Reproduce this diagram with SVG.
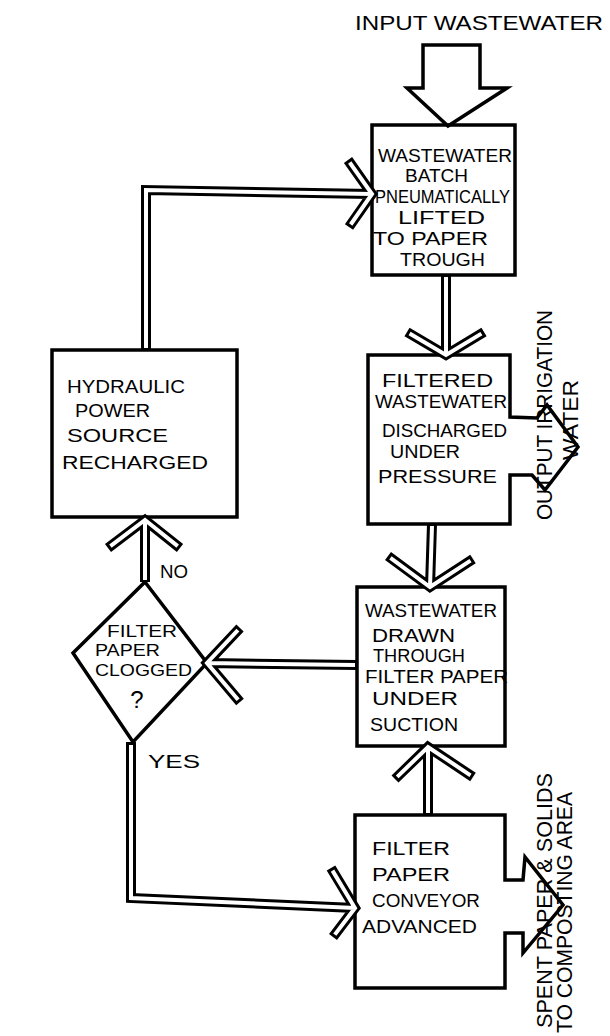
<svg xmlns="http://www.w3.org/2000/svg" width="610" height="1036" viewBox="0 0 610 1036">
<style>
.box{fill:none;stroke:#000;stroke-width:3.5;stroke-linejoin:miter}
.o{fill:none;stroke:#000;stroke-width:10;stroke-linejoin:miter;stroke-linecap:butt}
.i{fill:none;stroke:#fff;stroke-width:4;stroke-linejoin:miter;stroke-linecap:butt}
text{font-family:"Liberation Sans",Arial,sans-serif;fill:#000}
.t{font-size:18px}
.d{font-size:16px}
.r{font-size:22px}
.s{font-size:18px}
</style>
<rect width="610" height="1036" fill="#fff"/>
<g id="input">
<polygon class="box" fill="#fff" points="423,45 480,45 480,88 507,88 448,126 407,88 423,88"/>
<text x="355" y="30" font-size="21" textLength="248" lengthAdjust="spacingAndGlyphs">INPUT WASTEWATER</text>
</g>
<g id="box1">
<rect class="box" x="372" y="125" width="143" height="150"/>
<g class="t">
<text x="378" y="162" textLength="134" lengthAdjust="spacingAndGlyphs">WASTEWATER</text>
<text x="405" y="182" textLength="63" lengthAdjust="spacingAndGlyphs">BATCH</text>
<text x="375" y="203" textLength="135" lengthAdjust="spacingAndGlyphs">PNEUMATICALLY</text>
<text x="398" y="224" textLength="87" lengthAdjust="spacingAndGlyphs">LIFTED</text>
<text x="373" y="245" textLength="115" lengthAdjust="spacingAndGlyphs">TO PAPER</text>
<text x="400" y="266" textLength="85" lengthAdjust="spacingAndGlyphs">TROUGH</text>
</g>
</g>
<g id="box2">
<path class="box" d="M510,475 V524 H368 V355 H510 V417 L537,418 L547,405 L578,447 L545,490 L532,475 Z"/>
<g class="t">
<text x="382" y="387" textLength="111" lengthAdjust="spacingAndGlyphs">FILTERED</text>
<text x="375" y="408" textLength="132" lengthAdjust="spacingAndGlyphs">WASTEWATER</text>
<text x="382" y="437" textLength="125" lengthAdjust="spacingAndGlyphs">DISCHARGED</text>
<text x="390" y="458" textLength="70" lengthAdjust="spacingAndGlyphs">UNDER</text>
<text x="378" y="483" textLength="119" lengthAdjust="spacingAndGlyphs">PRESSURE</text>
</g>
<g class="r">
<text transform="translate(552,520) rotate(-90)" textLength="210" lengthAdjust="spacingAndGlyphs">OUTPUT IRRIGATION</text>
<text transform="translate(578,460) rotate(-90)" textLength="80" lengthAdjust="spacingAndGlyphs">WATER</text>
</g>
</g>
<g id="hydraulic">
<rect class="box" x="52" y="350" width="185" height="167"/>
<g class="t">
<text x="67" y="393" textLength="118" lengthAdjust="spacingAndGlyphs">HYDRAULIC</text>
<text x="75" y="417" textLength="75" lengthAdjust="spacingAndGlyphs">POWER</text>
<text x="67" y="442" textLength="101" lengthAdjust="spacingAndGlyphs">SOURCE</text>
<text x="62" y="469" textLength="146" lengthAdjust="spacingAndGlyphs">RECHARGED</text>
</g>
</g>
<g id="box3">
<rect class="box" x="357" y="587" width="148" height="159"/>
<g class="t">
<text x="365" y="617" textLength="132" lengthAdjust="spacingAndGlyphs">WASTEWATER</text>
<text x="372" y="642" textLength="83" lengthAdjust="spacingAndGlyphs">DRAWN</text>
<text x="373" y="662" textLength="92" lengthAdjust="spacingAndGlyphs">THROUGH</text>
<text x="365" y="683" textLength="143" lengthAdjust="spacingAndGlyphs">FILTER PAPER</text>
<text x="372" y="705" textLength="86" lengthAdjust="spacingAndGlyphs">UNDER</text>
<text x="370" y="731" textLength="88" lengthAdjust="spacingAndGlyphs">SUCTION</text>
</g>
</g>
<g id="decision">
<polygon class="box" points="145,582 207,663 133,742 73,653"/>
<g class="d">
<text x="107" y="637" textLength="70" lengthAdjust="spacingAndGlyphs">FILTER</text>
<text x="95" y="656" textLength="65" lengthAdjust="spacingAndGlyphs">PAPER</text>
<text x="95" y="676" textLength="97" lengthAdjust="spacingAndGlyphs">CLOGGED</text>
</g>
<text x="137" y="708" font-size="24" text-anchor="middle">?</text>
</g>
<g id="box4">
<path class="box" d="M505,880 V815 H355 V988 H505 V933 L523,933 L523,953 L563,905 L525,857 L523,880 Z"/>
<g class="t">
<text x="372" y="855" textLength="78" lengthAdjust="spacingAndGlyphs">FILTER</text>
<text x="372" y="881" textLength="78" lengthAdjust="spacingAndGlyphs">PAPER</text>
<text x="372" y="907" textLength="108" lengthAdjust="spacingAndGlyphs">CONVEYOR</text>
<text x="362" y="933" textLength="115" lengthAdjust="spacingAndGlyphs">ADVANCED</text>
</g>
<g class="r">
<text transform="translate(552,1028) rotate(-90)" textLength="255" lengthAdjust="spacingAndGlyphs">SPENT PAPER &amp; SOLIDS</text>
<text transform="translate(572,1033) rotate(-90)" textLength="241" lengthAdjust="spacingAndGlyphs">TO COMPOSTING AREA</text>
</g>
</g>
<g id="connectors">
<g class="o">
<path d="M446,275 V355 M407,332 L446,355 L484,332"/>
<path d="M432,524 L430,587 M388,556 L430,587 L473,559"/>
<path d="M428,815 V747 M395,779 L428,747 L473,777"/>
<path d="M357,665 L207,663 M240,628 L207,663 L240,702"/>
<path d="M145,582 V520 M108,548 L145,520 L180,548"/>
<path d="M146,350 V190 L372,194 M348,160 L372,194 L349,227"/>
<path d="M131,742 V898 L355,908 M331,868 L355,908 L333,937"/>
</g>
<g class="i">
<path d="M446,277 V355 M409.6,333.5 L446,355 L481.4,333.6"/>
<path d="M432,526 L430,587 M390.4,557.8 L430,587 L470.5,560.6"/>
<path d="M428,813 V747 M397.2,776.9 L428,747 L470.5,775.3"/>
<path d="M355,665 L207,663 M237.9,630.2 L207,663 L238.1,699.7"/>
<path d="M145,580 V520 M110.4,546.2 L145,520 L177.7,546.1"/>
<path d="M146,348 V190 L372,194 M349.7,162.5 L372,194 L350.7,224.5"/>
<path d="M131,745 V898 L355,908 M332.5,870.6 L355,908 L334.8,934.6"/>
</g>
</g>
<text x="160" y="578" class="s" textLength="28" lengthAdjust="spacingAndGlyphs">NO</text>
<text x="148" y="768" class="s" textLength="52" lengthAdjust="spacingAndGlyphs">YES</text>
</svg>
